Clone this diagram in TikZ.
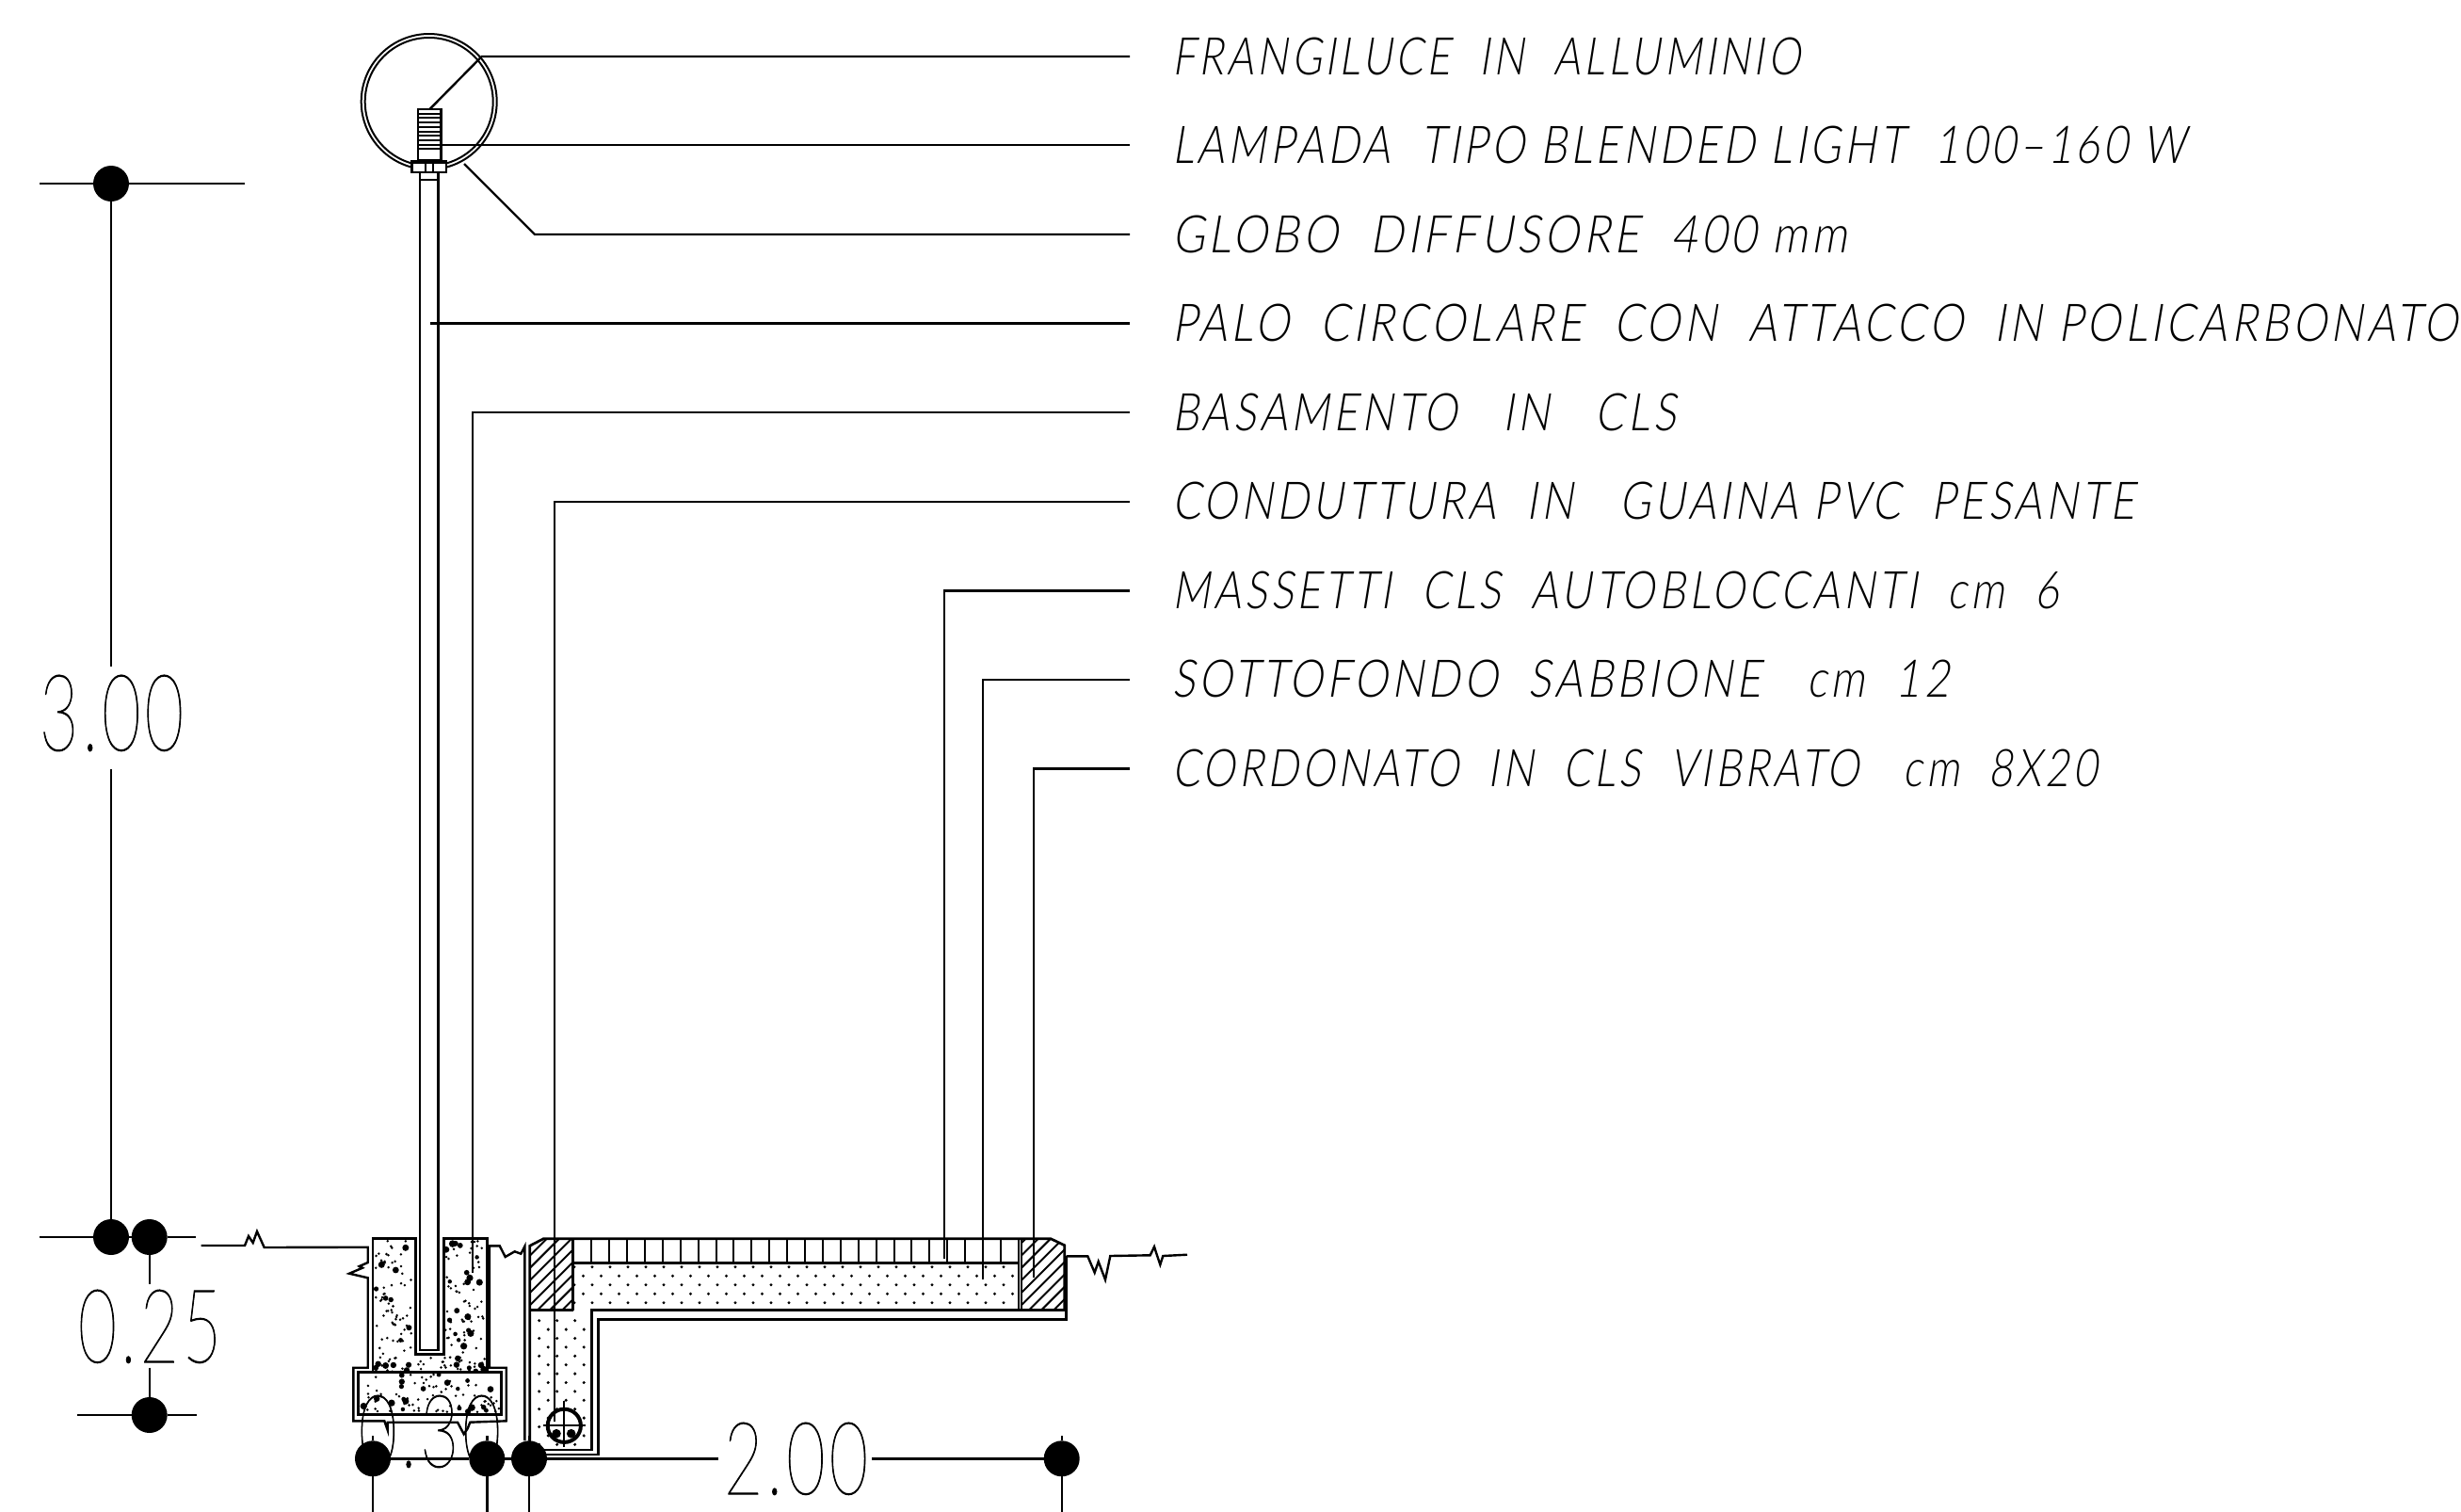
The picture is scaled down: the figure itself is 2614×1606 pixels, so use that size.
\documentclass[tikz,border=0pt]{standalone}
\usepackage{graphicx}
\usepackage{fontspec}
\newfontfamily\labfont{Lato Light}[FakeSlant=0.2,LetterSpace=9]
\newfontfamily\dimfont{Lato Hairline}[LetterSpace=6,FakeBold=1]
\newcommand{\lbl}[5]{\node[lblstyle] (#1) at (1245,#2) {\resizebox{\dimexpr #3pt/2\relax}{\dimexpr #4pt/2\relax}{\labfont #5}};}
\newcommand{\dimtext}[5]{\node[lblstyle] (#1) at (#2) {\resizebox{\dimexpr #3pt/2\relax}{\dimexpr #4pt/2\relax}{\dimfont #5}};}
\newcommand{\conc}[5]{%
  \foreach \i in {1,...,#5}{%
    \pgfmathsetmacro\xx{#1+rnd*#3}%
    \pgfmathsetmacro\yy{#2+rnd*#4}%
    \pgfmathsetmacro\rr{rnd<0.8 ? 0.7 : 1.1+rnd*0.8}%
    \fill (\xx,\yy) circle (\rr pt);%
  }}
\begin{document}
\begin{tikzpicture}[x=0.5pt,y=-0.5pt,
  line cap=butt,line join=miter,
  lin/.style={line width=1.35pt},
  lead/.style={line width=1.2pt},
  thin1/.style={line width=1pt},
  hat/.style={line width=1pt},
  lblstyle/.style={anchor=base west,inner sep=0pt,outer sep=0pt},
  dimdot/.style={circle,fill=black,inner sep=0pt,minimum size=19pt,outer sep=0pt}]
\useasboundingbox (0,0) rectangle (2614,1606);

% ---- texts
\lbl{t1}{79.3}{667}{39.5}{FRANGILUCE~~IN~~ALLUMINIO}
\lbl{t2}{173.7}{1077}{39.5}{LAMPADA~~TIPO BLENDED LIGHT~~100–160 W}
\lbl{t3}{268}{717}{39.5}{GLOBO~~DIFFUSORE~~400 mm}
\lbl{t4}{362.5}{1365}{39.5}{PALO~~CIRCOLARE~~CON~~ATTACCO~~IN POLICARBONATO}
\lbl{t5}{457}{535}{39.5}{BASAMENTO~~~IN~~~CLS}
\lbl{t6}{551.5}{1022}{39.5}{CONDUTTURA~~IN~~~GUAINA PVC~~PESANTE}
\lbl{t7}{646}{942}{39.5}{MASSETTI~~CLS~~AUTOBLOCCANTI~~cm~~6}
\lbl{t8}{740.5}{825}{39.5}{SOTTOFONDO~~SABBIONE~~~cm~~12}
\lbl{t9}{835}{982}{39.5}{CORDONATO~~IN~~CLS~~VIBRATO~~~cm~~8X20}

\dimtext{d300}{42,797}{153}{80}{3.00}
\dimtext{d025}{83,1447}{152}{77}{0.25}
\dimtext{d030}{381,1558}{151}{76}{0.30}
\dimtext{d200}{769,1587}{153}{76}{2.00}

% ---- concrete foundation fill
\pgfmathsetseed{41}
\begin{scope}
  \clip (397,1317) rectangle (440,1457);
  \conc{398}{1318}{41}{140}{85}
\end{scope}
\begin{scope}
  \clip (473,1317) rectangle (516,1457);
  \conc{473}{1318}{42}{140}{85}
\end{scope}
\begin{scope}
  \clip (397,1440) rectangle (516,1457);
  \conc{399}{1441}{116}{16}{30}
\end{scope}
\begin{scope}
  \clip (382,1459) rectangle (531,1501);
  \conc{383}{1460}{147}{41}{85}
\end{scope}

% ---- sand fill
\begin{scope}
  \clip (610,1343) rectangle (1081,1390);
  \foreach \row in {0,...,4}{\foreach \col in {0,...,25}{
    \pgfmathsetmacro\xx{610+19*\col+mod(\row,2)*9.5}
    \pgfmathsetmacro\yy{1345.7+9.5*\row}
    \fill (\xx,\yy) circle (0.85pt);}}
\end{scope}
\begin{scope}
  \clip (564,1393) rectangle (627,1539);
  \foreach \row in {0,...,15}{\foreach \col in {0,...,3}{
    \pgfmathsetmacro\xx{572.7+19*\col+mod(\row,2)*9.5}
    \pgfmathsetmacro\yy{1402.7+9.4*\row}
    \fill (\xx,\yy) circle (0.85pt);}}
\end{scope}

% ---- hatching
\begin{scope}
  \clip (562.7,1323.3) -- (577.3,1315.7) -- (608.7,1315.7) -- (608.7,1391.7) -- (562.7,1391.7) -- cycle;
  \foreach \k in {0,...,10}{\draw[hat] (470+13.2*\k,1400) -- ++(120,-120);}
\end{scope}
\begin{scope}
  \clip (1085,1315.7) -- (1116,1315.7) -- (1130.7,1322.7) -- (1130.7,1391.7) -- (1085,1391.7) -- cycle;
  \foreach \k in {0,...,11}{\draw[hat] (992+13.2*\k,1400) -- ++(120,-120);}
\end{scope}

% ---- lamp
\draw[thin1] (455.7,108) circle[radius=36pt];
\draw[thin1] (455.7,108) circle[radius=34pt];
\draw[lin] (444,116) rectangle (468.3,170);
\foreach \yy in {120.7,125,130,135,139.5,144.3,149,154,157.5}{\draw[thin1] (444,\yy) -- (468.3,\yy);}
\filldraw[lin,fill=white] (437.3,171.5) rectangle (474,183);
\draw[thin1] (451.7,171.5) -- (451.7,183) (460,171.5) -- (460,183) (437.3,173) -- (474,173);
\draw[lin] (446,183) -- (446,1434) -- (465.3,1434) -- (465.3,183);
\draw[thin1] (446,190.7) -- (465.3,190.7);

% ---- foundation
\draw[lin] (396,1457.7) -- (396,1315.7) -- (441.3,1315.7) -- (441.3,1438.3) -- (471.3,1438.3) -- (471.3,1315.7) -- (517.3,1315.7) -- (517.3,1457.7);
\draw[lin] (380.7,1457.7) rectangle (532.7,1502.7);
% outer lean-concrete line with breaks
\coordinate (gl0) at (213.7,1323);
\draw[lead] (gl0) -- (260,1323) -- (264,1313) -- (268.7,1320) -- (273,1308) -- (280.7,1325) -- (390.7,1324.7)
  -- (390.7,1341) -- (381.7,1345) -- (385,1346.7) -- (371,1352.7) -- (390.7,1357.3)
  -- (390.7,1452.7) -- (375.3,1452.7) -- (375.3,1509.3) -- (408.3,1509.3) -- (411.7,1519) -- (411.7,1510.7) -- (415,1510.7)
  -- (486,1510.7) -- (492.7,1523.3) -- (496.7,1517.3) -- (499.3,1510.7) -- (537.7,1509.3)
  -- (537.7,1452.7) -- (520,1452.7) -- (520,1323.3) -- (530.7,1323.3) -- (536.7,1335) -- (546.7,1329.3) -- (553.3,1331.7) -- (557.3,1324) -- (557.3,1530);

% ---- pavement section
\draw[lin] (562.7,1540) -- (562.7,1323.3) -- (577.3,1315.7) -- (1116,1315.7) -- (1130.7,1322.7) -- (1130.7,1391.7);
\draw[lin] (608.7,1315.7) -- (608.7,1391.7) (562.7,1391.7) -- (608.7,1391.7);
\draw[lin] (608.7,1341.7) -- (1082,1341.7);
\draw[lin] (1082,1315.7) -- (1082,1391.7) (1085,1315.7) -- (1085,1391.7);
\foreach \k in {1,...,24}{\draw[thin1] (609.3+18.9*\k,1315.7) -- (609.3+18.9*\k,1341.7);}
\draw[lin] (1130.7,1391.7) -- (628.7,1391.7) -- (628.7,1540) -- (562.7,1540);
\draw[lin] (1132.7,1334.3) -- (1132.7,1401.7) -- (635.3,1401.7) -- (635.3,1545) -- (580,1545);
\coordinate (gr9) at (1261,1332.7);
\draw[lead] (1132.7,1334.3) -- (1155.3,1334.3) -- (1162.7,1351.7) -- (1166.7,1340) -- (1174,1359.3) -- (1179.3,1334) -- (1221.7,1333.3) -- (1226,1324.3) -- (1232.3,1343.3) -- (1235.3,1334) -- (gr9);

% ---- conduit
\filldraw[line width=2pt,fill=white] (599.3,1514.3) circle[radius=8.8pt];
\draw[thin1] (577.3,1514.3) -- (621.7,1514.3) (599.3,1488) -- (599.3,1536.7);
\fill (591,1522.7) circle (2.4pt) (606.7,1522.7) circle (2.4pt);

% ---- leaders
\coordinate (a1) at (456.7,115.7); \coordinate (b1) at (511.7,60); \coordinate (c1) at (1200,60);
\draw[lead] (a1) -- (b1) -- (c1);
\coordinate (a2) at (468.3,154); \coordinate (c2) at (1200,154);
\draw[lead] (a2) -- (c2);
\coordinate (a3) at (493,174); \coordinate (b3) at (568,249); \coordinate (c3) at (1200,249);
\draw[lead] (a3) -- (b3) -- (c3);
\coordinate (a4) at (457,343.5); \coordinate (c4) at (1200,343.5);
\draw[lead] (a4) -- (c4);
\coordinate (a5) at (502,1352); \coordinate (b5) at (502,438); \coordinate (c5) at (1200,438);
\draw[lead] (a5) -- (b5) -- (c5);
\coordinate (a6) at (588.7,1510); \coordinate (b6) at (588.7,533); \coordinate (c6) at (1200,533);
\draw[lead] (a6) -- (b6) -- (c6);
\coordinate (a7) at (1003,1337); \coordinate (b7) at (1003,627.5); \coordinate (c7) at (1200,627.5);
\draw[lead] (a7) -- (b7) -- (c7);
\coordinate (a8) at (1044,1359); \coordinate (b8) at (1044,722); \coordinate (c8) at (1200,722);
\draw[lead] (a8) -- (b8) -- (c8);
\coordinate (a9) at (1098,1357); \coordinate (b9) at (1098,816.5); \coordinate (c9) at (1200,816.5);
\draw[lead] (a9) -- (b9) -- (c9);

% ---- dimensions
\node[dimdot] (p1) at (118,195) {};
\node[dimdot] (p2) at (118,1314) {};
\node[dimdot] (p3) at (158.7,1314) {};
\node[dimdot] (p4) at (158.7,1503) {};
\node[dimdot] (p5) at (396,1549.3) {};
\node[dimdot] (p6) at (517.3,1549.3) {};
\node[dimdot] (p7) at (562,1549.3) {};
\node[dimdot] (p8) at (1127.7,1549.3) {};
\coordinate (e1) at (42,195); \coordinate (e2) at (260,195);
\draw[lead] (e1) -- (p1) -- (e2);
\coordinate (e3) at (118,708); \coordinate (e4) at (118,817);
\draw[lead] (p1) -- (e3) (e4) -- (p2);
\coordinate (e5) at (41.7,1314); \coordinate (e6) at (207.7,1314);
\draw[lead] (e5) -- (p2) (p2) -- (p3) (p3) -- (e6);
\coordinate (e7) at (158.7,1364); \coordinate (e8) at (158.7,1452.7);
\draw[lead] (p3) -- (e7) (e8) -- (p4);
\coordinate (e9) at (82,1503); \coordinate (e10) at (209,1503);
\draw[lead] (e9) -- (p4) -- (e10);
\coordinate (f1) at (763,1549.3); \coordinate (f2) at (926,1549.3);
\draw[lead] (p5) -- (p6) -- (p7) -- (f1) (f2) -- (p8);
\foreach \p/\xx in {p5/396,p6/517.3,p7/562,p8/1127.7}{
  \coordinate (up\p) at (\xx,1525); \coordinate (dn\p) at (\xx,1606);
  \draw[lead] (up\p) -- (\p) -- (dn\p);}
\end{tikzpicture}
\end{document}
